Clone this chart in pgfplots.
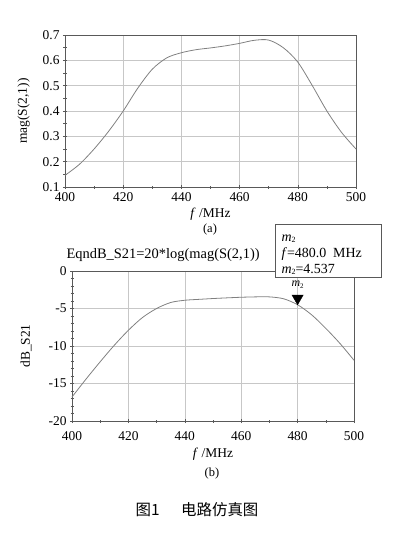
\documentclass[border=0pt]{standalone}
\usepackage{fontspec}
\setmainfont{Liberation Serif}
\newfontfamily\cjk{Noto Sans CJK SC}
\usepackage{pgfplots}
\pgfplotsset{compat=1.18}
\definecolor{curve}{gray}{0.5}
\definecolor{gridc}{gray}{0.78}
\definecolor{axc}{gray}{0.35}
\pgfplotsset{
  common/.style={
    scale only axis,
    xmin=400, xmax=500,
    xtick={400,420,440,460,480,500},
    minor x tick num=1, minor y tick num=1,
    xtick pos=bottom, ytick pos=left,
    tick align=center,
    major tick length=4bp, minor tick length=3bp,
    grid=major,
    major grid style={gridc, line width=0.6pt},
    axis line style={axc, line width=0.7pt},
    every tick/.style={axc, line width=0.6pt},
    tick label style={font=\fontsize{13.5}{15}\selectfont},
    label style={font=\fontsize{13.5}{15}\selectfont},
    /pgf/number format/assume math mode=true,
    xlabel={\textit{f} /MHz},
    clip=false,
  }
}
\begin{document}
\begin{tikzpicture}
\useasboundingbox (0,0) rectangle (399bp,-557bp);
% ---------- (a) ----------
\begin{axis}[common,
  at={(65bp,-187bp)}, anchor=south west,
  width=291bp, height=152bp,
  ymin=0.1, ymax=0.7,
  ytick={0.1,0.2,0.3,0.4,0.5,0.6,0.7},
  yticklabels={0.1,0.2,0.3,0.4,0.5,0.6,0.7},
  ylabel={mag(S(2,1))},
  ylabel shift=6bp,
]
\addplot[curve, line width=0.8pt, smooth] coordinates {
(400,0.146)(405,0.19)(410,0.25)(415,0.32)(420,0.40)(425,0.49)(430,0.565)
(435,0.61)(440,0.63)(445,0.642)(450,0.649)(455,0.657)(460,0.667)(465,0.679)
(470,0.68)(475,0.65)(480,0.593)(485,0.50)(490,0.40)(495,0.316)(500,0.25)};
\end{axis}
\node[font=\fontsize{12.5}{14}\selectfont] at (210bp,-230bp) {(a)};
% ---------- (b) ----------
\begin{axis}[common,
  at={(72bp,-421bp)}, anchor=south west,
  width=282bp, height=150bp,
  ymin=-20, ymax=0,
  ytick={-20,-15,-10,-5,0},
  minor y tick num=4,
  ylabel={dB\_S21},
  ylabel shift=10bp,
  xticklabel shift=5bp,
  xlabel shift=1bp,
]
\addplot[curve, line width=0.8pt, smooth] coordinates {
(400,-16.8)(405,-14.4)(410,-12.1)(415,-9.9)(420,-7.9)(425,-6.2)(430,-5.0)
(435,-4.2)(440,-3.9)(445,-3.78)(450,-3.67)(455,-3.58)(460,-3.5)(465,-3.45)
(470,-3.45)(475,-3.7)(480,-4.5)(485,-5.85)(490,-7.65)(495,-9.65)(500,-11.9)};
\addplot[only marks, mark=triangle*, mark size=6.5bp, black,
  mark options={yshift=6.5bp, rotate=180}] coordinates {(480,-4.5)};
\node[font=\fontsize{12}{13}\selectfont, anchor=base] at (axis cs:480,-4.5) [yshift=18bp]
  {\textit{m}\raisebox{-0.3ex}{\scriptsize 2}};
\end{axis}
\node[anchor=base west, font=\fontsize{14.5}{16}\selectfont] at (63bp,-258bp)
  {EqndB\_S21=20*log(mag(S(2,1))};
\node[anchor=north west, draw=axc, line width=0.8pt, fill=white,
  minimum width=106bp, minimum height=53bp, inner sep=0pt] (box) at (275bp,-224bp) {};
\node[anchor=base west, font=\fontsize{14}{16}\selectfont] at (278bp,-241bp)
  {\textit{m}\raisebox{-0.3ex}{\footnotesize 2}};
\node[anchor=base west, font=\fontsize{14}{16}\selectfont] at (278bp,-257bp)
  {\textit{f}=480.0\ \ MHz};
\node[anchor=base west, font=\fontsize{14}{16}\selectfont] at (278bp,-273bp)
  {\textit{m}\raisebox{-0.3ex}{\footnotesize 2}=4.537};
\node[font=\fontsize{12.5}{14}\selectfont] at (212bp,-473bp) {(b)};
% ---------- caption ----------
\node[font=\fontsize{15.5}{17}\selectfont] at (197bp,-510bp)
  {\cjk 图1\hspace{1.4em}电路仿真图};
\end{tikzpicture}
\end{document}
